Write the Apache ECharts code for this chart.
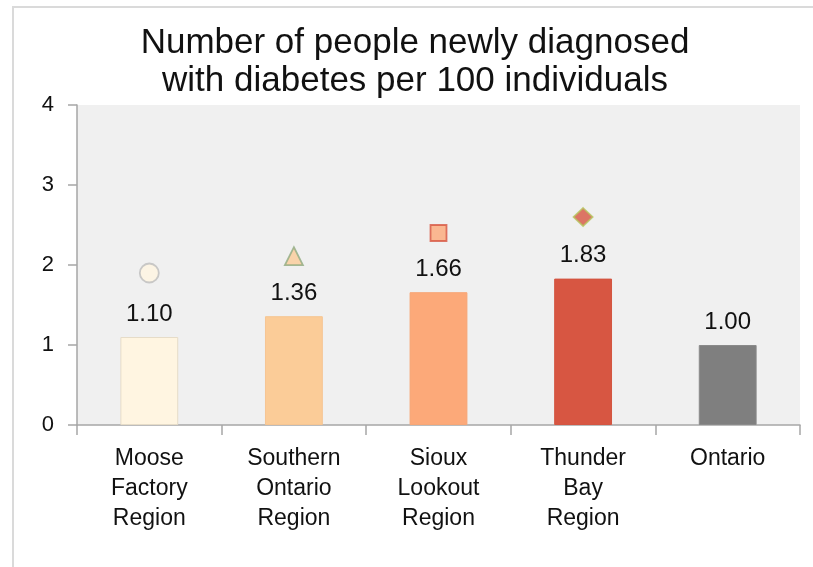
<!DOCTYPE html>
<html>
<head>
<meta charset="utf-8">
<script src="https://cdn.jsdelivr.net/npm/echarts@6/dist/echarts.min.js"></script>
<style>
    html, body { margin: 0; padding: 0; background: #fff; }
    #chart { width: 813px; height: 567px; }
</style>
</head>
<body>
<div id="chart"></div>
<script>
var regions = ["Moose\nFactory\nRegion", "Southern\nOntario\nRegion", "Sioux\nLookout\nRegion", "Thunder\nBay\nRegion", "Ontario"];
var rates = [1.10, 1.36, 1.66, 1.83, 1.00];
var markerValues = [1.90, 2.11, 2.40, 2.60, null];
var yTicks = [0, 1, 2, 3, 4];

var barColors = ["#FFF5E1", "#FBCC98", "#FCA979", "#D75642", "#7F7F7F"];
var barBorders = ["#E6DCC8", "#F6C592", "#F7A676", "#D35541", "#8A8A8A"];
var markerSymbols = ["circle", "triangle", "rect", "diamond", "none"];
var markerSizes = [19, 18, 16, [19, 18], 0];
var markerFills = ["#FFF5E1", "#FBCC98", "#FCA979", "#D75642", "#fff"];
var markerBorders = ["#BDBDBD", "#8FAA80", "#D75642", "#B5C25A", "#fff"];

var chart = echarts.init(document.getElementById("chart"));

var barData = rates.map(function(v, i) {
    return {
        value: v,
        itemStyle: { color: barColors[i], borderColor: barBorders[i], borderWidth: 1 }
    };
});

var markerData = markerValues.map(function(v, i) {
    return {
        value: v,
        symbol: markerSymbols[i],
        symbolSize: markerSizes[i],
        itemStyle: { color: markerFills[i], borderColor: markerBorders[i], borderWidth: 1.8 }
    };
});

var option = {
    animation: false,
    backgroundColor: "#fff",
    textStyle: { fontFamily: "Liberation Sans, Arial, sans-serif", color: "#111" },
    graphic: [{
        type: "rect",
        shape: { x: 13, y: 7, width: 820, height: 600 },
        style: { fill: "none", stroke: "#DADADA", lineWidth: 2 },
        silent: true
    }],
    title: {
        text: "Number of people newly diagnosed\nwith diabetes per 100 individuals",
        left: 410,
        textAlign: "center",
        top: 19,
        textStyle: {
            fontFamily: "Liberation Sans, Arial, sans-serif",
            fontSize: 35,
            fontWeight: "normal",
            lineHeight: 38,
            color: "#111"
        }
    },
    grid: {
        left: 77,
        right: 13,
        top: 105,
        bottom: 142,
        show: true,
        backgroundColor: "#F0F0F0",
        borderWidth: 0
    },
    xAxis: {
        type: "category",
        data: regions,
        axisLine: { lineStyle: { color: "#A6A6A6", width: 1.5 } },
        axisTick: { show: true, alignWithLabel: false, length: 10, lineStyle: { color: "#A6A6A6", width: 1.5 } },
        axisLabel: {
            interval: 0,
            margin: 19,
            fontSize: 23,
            lineHeight: 30,
            color: "#111",
            fontFamily: "Liberation Sans, Arial, sans-serif"
        }
    },
    yAxis: {
        type: "value",
        min: yTicks[0],
        max: yTicks[yTicks.length - 1],
        interval: 1,
        splitLine: { show: false },
        axisLine: { show: true, lineStyle: { color: "#A6A6A6", width: 1.5 } },
        axisTick: { show: true, length: 9, lineStyle: { color: "#A6A6A6", width: 1.5 } },
        axisLabel: {
            margin: 23,
            fontSize: 22,
            color: "#111",
            fontFamily: "Liberation Sans, Arial, sans-serif"
        }
    },
    series: [
        {
            name: "Rate",
            type: "bar",
            data: barData,
            barWidth: "40%",
            label: {
                show: true,
                position: "top",
                distance: 11,
                fontSize: 24,
                color: "#111",
                fontFamily: "Liberation Sans, Arial, sans-serif",
                formatter: function(p) { return p.value.toFixed(2); }
            }
        },
        {
            name: "Marker",
            type: "scatter",
            data: markerData,
            z: 3
        }
    ]
};

chart.setOption(option);
</script>
</body>
</html>
